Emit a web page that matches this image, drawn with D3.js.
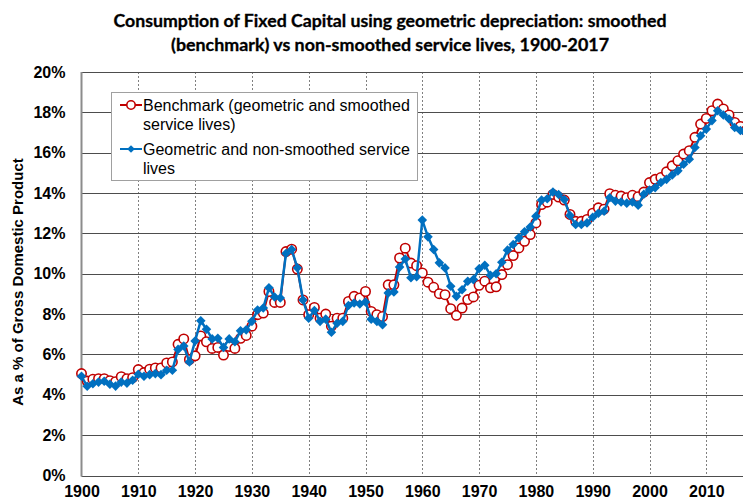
<!DOCTYPE html>
<html>
<head>
<meta charset="utf-8">
<script src="https://cdn.jsdelivr.net/npm/d3@7"></script>
<style>
  body { margin: 0; background: #fff; }
  svg { display: block; }
</style>
</head>
<body>
<div id="chart"></div>
<script>
// years 1900-2017
var years = d3.range(1900, 2018);

// benchmark (geometric and smoothed service lives), % of GDP
var benchmark = [
  5.05, 4.68, 4.77, 4.80, 4.80, 4.70, 4.65, 4.90, 4.80, 4.85,
  5.25, 5.10, 5.27, 5.33, 5.33, 5.58, 5.63, 6.50, 6.77, 5.75,
  5.93, 6.92, 6.63, 6.30, 6.35, 5.97, 6.40, 6.30, 6.80, 6.94,
  7.40, 7.97, 8.05, 9.12, 8.58, 8.58, 11.10, 11.22, 10.23, 8.70,
  7.97, 8.33, 7.80, 8.00, 7.40, 7.80, 7.80, 8.63, 8.88, 8.80,
  9.12, 8.13, 7.97, 7.88, 9.45, 9.45, 10.78, 11.27, 10.53, 10.40,
  10.04, 9.58, 9.33, 9.01, 8.96, 8.27, 7.94, 8.30, 8.72, 8.85,
  9.43, 9.63, 9.30, 9.35, 9.96, 10.45, 10.90, 11.28, 11.61, 11.94,
  12.52, 13.43, 13.55, 13.93, 13.80, 13.65, 12.94, 12.60, 12.60, 12.69,
  13.00, 13.27, 13.20, 13.97, 13.89, 13.85, 13.77, 13.89, 13.82, 14.05,
  14.52, 14.68, 14.77, 15.05, 15.35, 15.60, 15.93, 16.10, 16.76, 17.42,
  17.70, 18.08, 18.41, 18.17, 17.87, 17.50, 17.30, 17.10
];

// geometric and non-smoothed service lives, % of GDP
var nonSmoothed = [
  4.92, 4.42, 4.55, 4.63, 4.67, 4.52, 4.43, 4.63, 4.58, 4.72,
  5.02, 4.92, 5.00, 5.05, 5.00, 5.22, 5.22, 6.25, 6.42, 5.63,
  6.67, 7.67, 7.25, 6.77, 6.80, 6.35, 6.77, 6.63, 7.17, 7.22,
  7.64, 8.20, 8.30, 9.30, 8.85, 8.80, 11.00, 11.20, 10.30, 8.70,
  7.80, 8.18, 7.64, 7.75, 7.10, 7.55, 7.64, 8.43, 8.55, 8.50,
  8.60, 7.75, 7.64, 7.47, 9.05, 9.10, 10.33, 10.73, 9.80, 9.85,
  12.66, 11.83, 11.20, 10.54, 10.29, 9.38, 8.88, 9.21, 9.63, 9.71,
  10.25, 10.42, 9.92, 10.00, 10.57, 11.17, 11.45, 11.78, 12.08, 12.32,
  12.85, 13.65, 13.72, 14.05, 13.93, 13.68, 12.89, 12.44, 12.44, 12.52,
  12.80, 13.00, 13.10, 13.77, 13.60, 13.56, 13.50, 13.56, 13.40, 13.94,
  14.15, 14.27, 14.52, 14.68, 14.90, 15.10, 15.43, 15.68, 16.26, 16.84,
  17.17, 17.59, 18.08, 17.87, 17.67, 17.25, 17.10, 16.95
];

var xTicks = d3.range(1900, 2020, 10);
var yTicks = [0, 2, 4, 6, 8, 10, 12, 14, 16, 18, 20];

var titleLines = [
  'Consumption of Fixed Capital using geometric depreciation: smoothed',
  '(benchmark) vs non-smoothed service lives, 1900-2017'
];
var legendLabels = [
  ['Benchmark (geometric and smoothed', 'service lives)'],
  ['Geometric and non-smoothed service', 'lives']
];

var redColor = '#c00000';
var blueColor = '#0070c0';

var width = 743, height = 502;
// note: "top" is a reserved window prop, so plot edges get their own names
var plotLeft = 81.5, plotTop = 72, plotBottom = 475.5;

var svg = d3.select('#chart')
  .append('svg')
  .attr('width', width)
  .attr('height', height);

var x = d3.scaleLinear().domain([1900, 2017]).range([plotLeft, plotLeft + 117 * 5.68]);
var y = d3.scaleLinear().domain([0, 20]).range([plotBottom, plotTop]);

// title
svg.append('g')
  .selectAll('text')
  .data(titleLines)
  .enter().append('text')
  .attr('x', 390)
  .attr('y', function(d, i){ return 27 + i * 24; })
  .attr('text-anchor', 'middle')
  .attr('font-family', 'Lato, "Open Sans", sans-serif')
  .attr('font-weight', 'bold')
  .attr('font-size', 16.5)
  .attr('textLength', function(d, i){ return i === 0 ? 553 : 438; })
  .attr('lengthAdjust', 'spacingAndGlyphs')
  .attr('fill', '#000')
  .attr('stroke', '#000')
  .attr('stroke-width', 0.3)
  .text(function(d){ return d; });

// vertical dashed grid
svg.append('g')
  .selectAll('line')
  .data(xTicks.slice(1))
  .enter().append('line')
  .attr('x1', function(d){ return Math.round(x(d)) + 0.5; })
  .attr('x2', function(d){ return Math.round(x(d)) + 0.5; })
  .attr('y1', plotTop)
  .attr('y2', plotBottom)
  .attr('stroke', '#808080')
  .attr('stroke-width', 1)
  .attr('stroke-dasharray', '2,2');

// horizontal grid
svg.append('g')
  .selectAll('line')
  .data(yTicks)
  .enter().append('line')
  .attr('x1', plotLeft)
  .attr('x2', width)
  .attr('y1', function(d){ return Math.round(y(d)) + 0.5; })
  .attr('y2', function(d){ return Math.round(y(d)) + 0.5; })
  .attr('stroke', '#4d4d4d')
  .attr('stroke-width', 1.2);

// left axis line
svg.append('line')
  .attr('x1', plotLeft).attr('x2', plotLeft)
  .attr('y1', plotTop).attr('y2', plotBottom + 1)
  .attr('stroke', '#8c8c8c')
  .attr('stroke-width', 2);

// y tick labels
var yAxis = d3.axisLeft(y).tickValues(yTicks).tickSize(0).tickPadding(16)
  .tickFormat(function(d){ return d + '%'; });
var yg = svg.append('g').attr('transform', 'translate(' + plotLeft + ',0)').call(yAxis);
yg.select('.domain').remove();
yg.selectAll('text')
  .attr('font-family', '"Liberation Sans", Arial, sans-serif')
  .attr('font-weight', 'bold')
  .attr('font-size', 16)
  .attr('fill', '#000');

// x tick labels
var xAxis = d3.axisBottom(x).tickValues(xTicks).tickSize(0).tickPadding(10)
  .tickFormat(d3.format('d'));
var xg = svg.append('g').attr('transform', 'translate(0,' + plotBottom + ')').call(xAxis);
xg.select('.domain').remove();
xg.selectAll('text')
  .attr('font-family', '"Liberation Sans", Arial, sans-serif')
  .attr('font-weight', 'bold')
  .attr('font-size', 16)
  .attr('fill', '#000');

// y axis title
svg.append('text')
  .attr('transform', 'translate(23,282) rotate(-90)')
  .attr('text-anchor', 'middle')
  .attr('font-family', '"Liberation Sans", Arial, sans-serif')
  .attr('font-weight', 'bold')
  .attr('font-size', 15)
  .attr('fill', '#000')
  .text('As a % of Gross Domestic Product');

var line = d3.line()
  .x(function(d){ return x(d[0]); })
  .y(function(d){ return y(d[1]); });

var redData = years.map(function(yr, i){ return [yr, benchmark[i]]; });
var blueData = years.map(function(yr, i){ return [yr, nonSmoothed[i]]; });

// benchmark series
svg.append('path')
  .datum(redData)
  .attr('d', line)
  .attr('fill', 'none')
  .attr('stroke', redColor)
  .attr('stroke-width', 2);

svg.append('g')
  .selectAll('circle')
  .data(redData)
  .enter().append('circle')
  .attr('cx', function(d){ return x(d[0]); })
  .attr('cy', function(d){ return y(d[1]); })
  .attr('r', 4.7)
  .attr('fill', '#fff')
  .attr('stroke', redColor)
  .attr('stroke-width', 1.6);

// non-smoothed series
var diamond = d3.symbol().type(d3.symbolSquare).size(46);

svg.append('path')
  .datum(blueData)
  .attr('d', line)
  .attr('fill', 'none')
  .attr('stroke', blueColor)
  .attr('stroke-width', 2.5);

svg.append('g')
  .selectAll('path')
  .data(blueData)
  .enter().append('path')
  .attr('d', diamond)
  .attr('transform', function(d){
    return 'translate(' + x(d[0]) + ',' + y(d[1]) + ') rotate(45)';
  })
  .attr('fill', blueColor);

// legend
var legend = svg.append('g');
legend.append('rect')
  .attr('x', 111.5).attr('y', 92.5)
  .attr('width', 306).attr('height', 88)
  .attr('fill', '#fff')
  .attr('stroke', '#a0a0a0')
  .attr('stroke-width', 1);

var legendRows = [
  {color: redColor, y: 105, lines: legendLabels[0]},
  {color: blueColor, y: 149, lines: legendLabels[1]}
];

legend.selectAll('line.key')
  .data(legendRows)
  .enter().append('line')
  .attr('class', 'key')
  .attr('x1', 120).attr('x2', 142)
  .attr('y1', function(d){ return d.y; })
  .attr('y2', function(d){ return d.y; })
  .attr('stroke', function(d){ return d.color; })
  .attr('stroke-width', 2);

legend.append('circle')
  .attr('cx', 131).attr('cy', legendRows[0].y)
  .attr('r', 4.2)
  .attr('fill', '#fff')
  .attr('stroke', redColor)
  .attr('stroke-width', 1.6);

legend.append('path')
  .attr('d', d3.symbol().type(d3.symbolSquare).size(30))
  .attr('transform', 'translate(131,' + legendRows[1].y + ') rotate(45)')
  .attr('fill', blueColor);

legendRows.forEach(function(row){
  legend.append('g')
    .selectAll('text')
    .data(row.lines)
    .enter().append('text')
    .attr('x', 143)
    .attr('y', function(d, i){ return row.y + 6 + i * 19; })
    .attr('font-family', '"Liberation Sans", Arial, sans-serif')
    .attr('font-size', 16)
    .attr('fill', '#000')
    .text(function(d){ return d; });
});
</script>
</body>
</html>
